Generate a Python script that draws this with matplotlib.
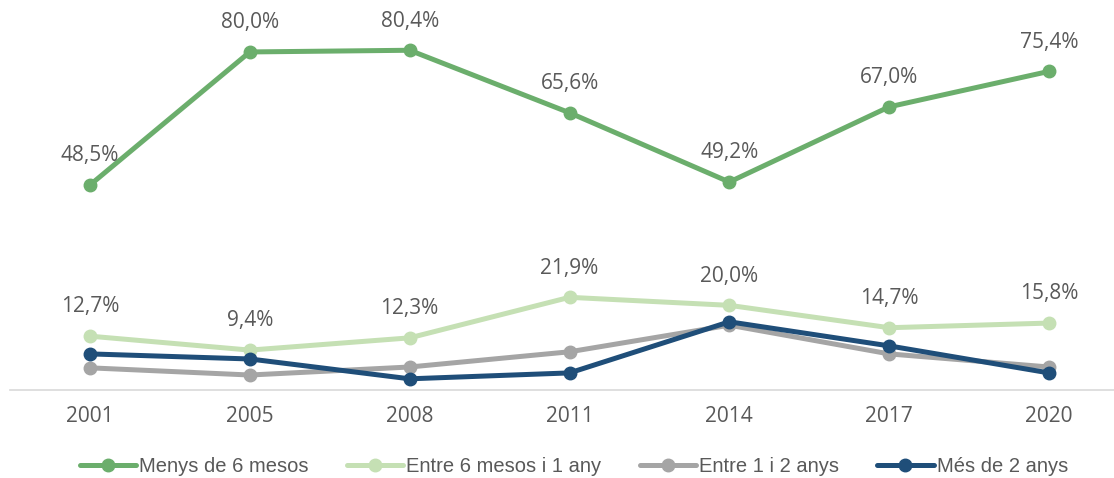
import matplotlib
matplotlib.use("Agg")
import matplotlib.pyplot as plt

years = ["2001", "2005", "2008", "2011", "2014", "2017", "2020"]
menys6 = [48.5, 80.0, 80.4, 65.6, 49.2, 67.0, 75.4]
entre6_1 = [12.7, 9.4, 12.3, 21.9, 20.0, 14.7, 15.8]
entre1_2 = [5.2, 3.5, 5.4, 9.0, 15.3, 8.5, 5.4]
mes2 = [8.5, 7.3, 2.6, 4.0, 16.1, 10.4, 4.0]

series = [
    ("Menys de 6 mesos", menys6, "#6BAE6C", True),
    ("Entre 6 mesos i 1 any", entre6_1, "#C5E0B4", True),
    ("Entre 1 i 2 anys", entre1_2, "#A5A5A5", False),
    ("Més de 2 anys", mes2, "#1F4E79", False),
]

W, H = 1114, 478
fig = plt.figure(figsize=(W / 100, H / 100), dpi=100)
left_px, right_px = 10.1, 1128.9
zero_px = 389.8
ax = fig.add_axes([left_px / W, (H - zero_px) / H, (right_px - left_px) / W, zero_px / H])
ax.set_xlim(-0.5, len(years) - 0.5)
ax.set_ylim(0, 92.3)

x = list(range(len(years)))
for name, vals, col, lab in series:
    ax.plot(x, vals, color=col, lw=3.6, marker="o", ms=9, label=name,
            solid_capstyle="round", solid_joinstyle="round")
    if lab:
        for xi, v in zip(x, vals):
            ax.annotate(f"{v:.1f}%".replace(".", ","), (xi, v), xytext=(0, 21),
                        textcoords="offset points", ha="center", va="center",
                        fontsize=15, color="#595959", family="Open Sans")

for s in ["top", "right", "left"]:
    ax.spines[s].set_visible(False)
ax.spines["bottom"].set_color("#D9D9D9")
ax.spines["bottom"].set_linewidth(1.2)
ax.set_yticks([])
ax.set_xticks(x)
ax.set_xticklabels(years, fontsize=15, color="#595959", family="Open Sans")
ax.tick_params(axis="x", length=0, pad=12)

fig.legend(loc="center", bbox_to_anchor=(0.515, (H - 467) / H), ncol=4,
           frameon=False, handlelength=2.8, columnspacing=1.9,
           handletextpad=0.15, prop={"family": "Liberation Sans", "size": 14.5},
           labelcolor="#595959")

fig.savefig("out.png", dpi=100)
